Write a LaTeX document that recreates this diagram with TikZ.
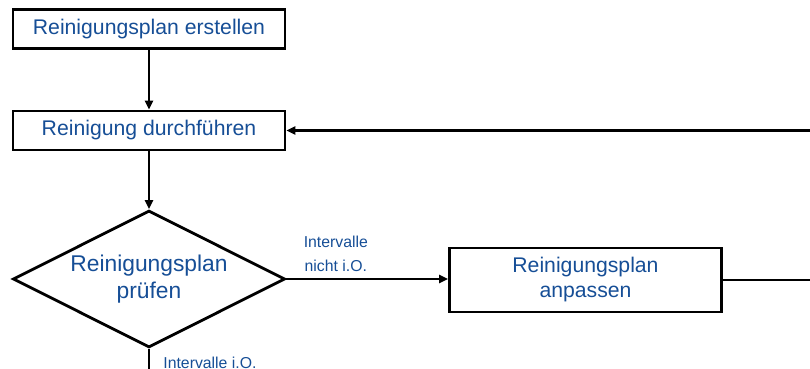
\documentclass[tikz,border=0pt]{standalone}
\usepackage{fontspec}
\setmainfont{Liberation Sans}
\usetikzlibrary{shapes.geometric,arrows.meta,positioning}
\definecolor{textblue}{RGB}{22,78,150}
\tikzset{
  stepbox/.style = {draw,line width=1.4pt,text=textblue,align=center,
    minimum width=136pt,inner sep=0pt,font=\fontsize{10.6}{12.5}\selectfont},
  check/.style = {draw,diamond,aspect=2,line width=1.4pt,text=textblue,align=center,
    minimum width=136pt,minimum height=68.5pt,inner sep=0pt,font=\fontsize{11.4}{13.5}\selectfont},
  flow/.style = {line width=1.4pt,-{Triangle[length=4.5pt,width=4pt]}},
  note/.style = {text=textblue,inner sep=0pt,align=center,font=\fontsize{7.9}{12}\selectfont}
}

\begin{document}
\begin{tikzpicture}[x=0.5pt,y=-0.5pt]
  \useasboundingbox (0,0) rectangle (810,369);
  \clip (0,0) rectangle (810,369);
  \node[stepbox,minimum height=19.5pt] (create) at (149,29) {Reinigungsplan erstellen};
  \node[stepbox,minimum height=19.5pt] (run) at (149,130.5) {Reinigung durchführen};
  \node[check] (test) at (149,279) {Reinigungsplan\\prüfen};
  \node[stepbox,minimum height=32pt] (adjust) at (585.5,280) {Reinigungsplan\\anpassen};
  \coordinate (rim) at (840,0);
  \coordinate (exit) at (149,390);
  \draw[flow] (create) -- (run);
  \draw[flow] (run) -- (test);
  \draw[flow] (test.east) -- (test.east -| adjust.west);
  \draw[flow] (adjust.east) -- (adjust.east -| rim) |- (run.east);
  \draw[line width=1.4pt] (test.south) -- (exit);
  \node[note,above right=3.5pt and 8.5pt of test.east] (notok) {Intervalle\\nicht i.O.};
  \node[note,below right=4pt and 7pt of test.south] (ok) {Intervalle i.O.};
\end{tikzpicture}
\end{document}
